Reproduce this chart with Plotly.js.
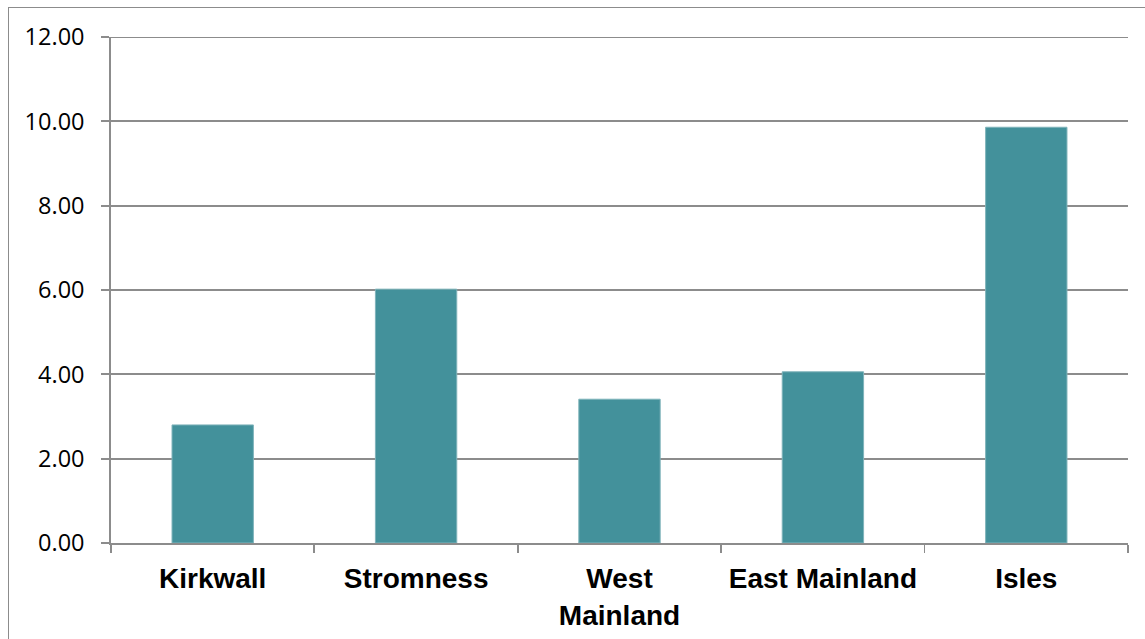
<!DOCTYPE html>
<html>
<head>
<meta charset="utf-8">
<script src="https://cdn.plot.ly/plotly-3.0.1.min.js"></script>
<style>
html,body{margin:0;padding:0;background:#fff;width:1145px;height:639px;overflow:hidden;}
#frame{position:absolute;left:8px;top:7px;width:1145px;height:640px;border:1.5px solid #8c8c8c;box-sizing:border-box;}
#chart{position:absolute;left:0;top:0;width:1145px;height:639px;}
</style>
</head>
<body>
<div id="frame"></div>
<div id="chart"></div>
<script>
const categories = ["Kirkwall", "Stromness", "West Mainland", "East Mainland", "Isles"];
const tickLabels = ["Kirkwall", "Stromness", "West<br>Mainland", "East Mainland", "Isles"];
const values = [2.80, 6.02, 3.41, 4.06, 9.86];
const yTickVals = [0, 2, 4, 6, 8, 10, 12];
const yTickText = ["0.00", "2.00", "4.00", "6.00", "8.00", "10.00", "12.00"];

const trace = {
  type: "bar",
  x: categories,
  y: values,
  marker: {color: "#43919b", line: {color: "#7fb3ba", width: 1}},
  hoverinfo: "x+y"
};

const layout = {
  width: 1145,
  height: 639,
  margin: {l: 111, r: 17, t: 37, b: 96, pad: 0},
  paper_bgcolor: "rgba(0,0,0,0)",
  plot_bgcolor: "rgba(0,0,0,0)",
  bargap: 0.6,
  showlegend: false,
  xaxis: {
    type: "category",
    tickmode: "array",
    tickvals: categories,
    ticktext: tickLabels,
    tickson: "boundaries",
    ticks: "outside",
    ticklen: 8,
    tickwidth: 1.8,
    tickcolor: "#8c8c8c",
    showline: true,
    linecolor: "#8c8c8c",
    linewidth: 1.8,
    showgrid: false,
    ticklabelstandoff: 10,
    tickfont: {family: "Liberation Sans, Arial, sans-serif", size: 28, color: "#000", weight: "bold"}
  },
  yaxis: {
    range: [0, 12],
    tickmode: "array",
    tickvals: yTickVals,
    ticktext: yTickText,
    ticks: "outside",
    ticklen: 8,
    tickwidth: 1.8,
    tickcolor: "#8c8c8c",
    showline: true,
    linecolor: "#8c8c8c",
    linewidth: 1.8,
    showgrid: true,
    gridcolor: "#8c8c8c",
    gridwidth: 1.8,
    zeroline: false,
    ticklabelstandoff: 12,
    tickfont: {family: "Open Sans, sans-serif", size: 23.5, color: "#000"}
  },
  shapes: [{
    type: "line", xref: "paper", yref: "y", x0: 0, x1: 1, y0: 12, y1: 12,
    line: {color: "#8c8c8c", width: 1.8}
  }]
};

Plotly.newPlot("chart", [trace], layout, {displayModeBar: false, staticPlot: true});
</script>
</body>
</html>
